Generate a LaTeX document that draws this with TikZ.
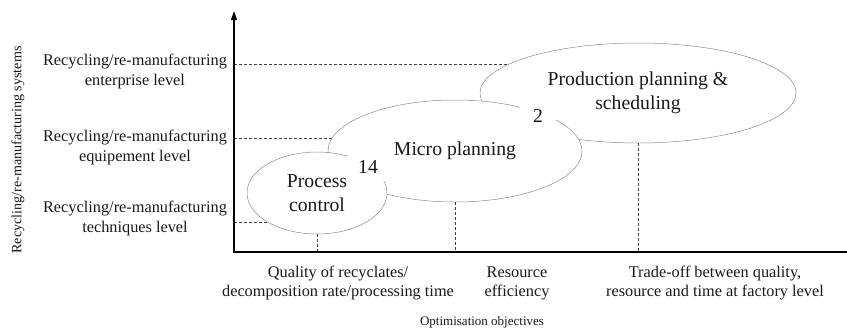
\documentclass[tikz,border=0pt]{standalone}
\usepackage{fontspec}
\setmainfont{Liberation Serif}
\usetikzlibrary{shapes.geometric,arrows.meta}
\begin{document}
\begin{tikzpicture}[x=1pt,y=-1pt,
  lvl/.style={align=center,font=\fontsize{16.3}{20}\selectfont,inner sep=0,text=black!90},
  obj/.style={align=center,font=\fontsize{16.3}{19}\selectfont,inner sep=0,text=black!90},
  zone/.style={ellipse,draw=black!45,line width=0.5pt,fill=white,align=center,inner sep=0,
    font=\fontsize{19.7}{23.5}\selectfont,text=black!90},
  guide/.style={dash pattern=on 3pt off 2pt,draw=black!75,line width=0.5pt},
  axisline/.style={line width=1.3pt,line join=miter},
  num/.style={fill=white,inner sep=0,font=\fontsize{19.7}{23.5}\selectfont,text=black!90}]
\useasboundingbox (0,0) rectangle (847,330);
% axis points
\coordinate (O) at (234,252);
\coordinate (Ytip) at (234,11);
\coordinate (Xend) at (847,252);
\coordinate (yE) at (234,64);
\coordinate (yQ) at (234,138);
\coordinate (yT) at (234,222);
% ellipse centres
\coordinate (ppc) at (638,93);
\coordinate (mpc) at (455,151);
\coordinate (pcc) at (317,193);
% horizontal guides (covered by the ellipses)
\draw[guide] (yE) -- (yE -| ppc);
\draw[guide] (yQ) -- (yQ -| mpc);
\draw[guide] (yT) -- (yT -| pcc);
% ellipses
\node[zone,minimum width=316pt,minimum height=100pt] (pp) at (ppc) {Production planning \&\\scheduling};
\node[zone,minimum width=254pt,minimum height=102pt] (mp) at (mpc) {Micro planning};
\node[zone,minimum width=140pt,minimum height=82pt] (pc) at (pcc) {Process\\control};
% vertical guides
\draw[guide] (pc.south) -- (pc.south |- O);
\draw[guide] (mp.south) -- (mp.south |- O);
\draw[guide] (pp.south) -- (pp.south |- O);
% numbers
\node[num,minimum width=40pt,minimum height=27pt] (n14) at (368,167) {14};
\node[num,minimum width=36pt,minimum height=24pt] (n2) at (538,116) {2};
% axes
\draw[axisline,-{Triangle[length=9pt,width=6pt]}] (Xend) -- (O) -- (Ytip);
% level labels
\node[lvl] (lE) at (135,71) {Recycling/re-manufacturing\\enterprise level};
\node[lvl] (lQ) at (135,147.5) {Recycling/re-manufacturing\\equipement level};
\node[lvl] (lT) at (135,218.5) {Recycling/re-manufacturing\\techniques level};
\node[rotate=90,inner sep=0,font=\fontsize{14.1}{17}\selectfont,text=black!90] (ylab) at (18,150) {Recycling/re-manufacturing systems};
% objective labels
\node[obj] (oQ) at (338,283) {Quality of recyclates/\\decomposition rate/processing time};
\node[obj] (oR) at (517,283) {Resource\\efficiency};
\node[obj] (oT) at (715,283) {Trade-off between quality,\\resource and time at factory level};
\node[inner sep=0,font=\fontsize{13}{16}\selectfont,text=black!90] (xlab) at (482,322) {Optimisation objectives};
\end{tikzpicture}
\end{document}
